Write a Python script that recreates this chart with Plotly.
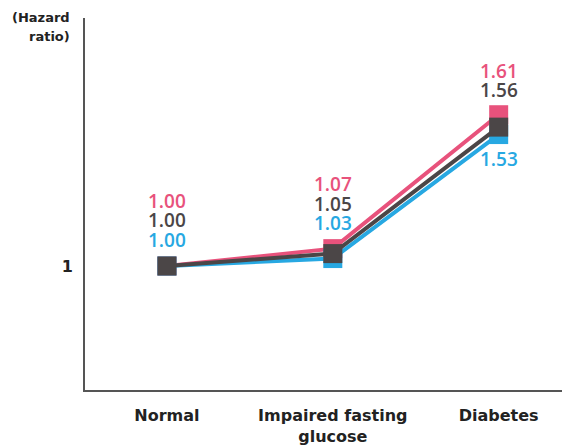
import plotly.graph_objects as go

categories = ["Normal", "Impaired fasting<br>glucose", "Diabetes"]
x_pos = [0, 1, 2]
pink_vals = [1.00, 1.07, 1.61]
gray_vals = [1.00, 1.05, 1.56]
blue_vals = [1.00, 1.03, 1.53]
y_label_lines = ["(Hazard", "ratio)"]

PINK = "#E8527C"
GRAY = "#4B4647"
BLUE = "#27A8E2"

# page body has ~8px default margin; compensate so the plot lands where the reference has it
OFF = 8
W, H = 570 - OFF, 445 - OFF
ML, MR, MT, MB = 85 - OFF, 0, 18 - OFF, 55
PW, PH = W - ML - MR, H - MT - MB

fig = go.Figure()
for vals, col in [(pink_vals, PINK), (blue_vals, BLUE), (gray_vals, GRAY)]:
    fig.add_trace(go.Scatter(
        x=x_pos, y=vals, mode="lines+markers",
        line=dict(color=col, width=4),
        marker=dict(symbol="square", size=19, color=col),
        showlegend=False, hoverinfo="skip"))

numfont = dict(family="Open Sans", size=19, weight=600)
offsets = {
    0: [(pink_vals, PINK, 65), (gray_vals, GRAY, 46), (blue_vals, BLUE, 26)],
    1: [(pink_vals, PINK, 65), (gray_vals, GRAY, 45), (blue_vals, BLUE, 26)],
}
for i in (0, 1):
    top = max(pink_vals[i], gray_vals[i], blue_vals[i])
    for vals, col, dy in offsets[i]:
        fig.add_annotation(x=x_pos[i], y=top, yshift=dy,
                           text=f"{vals[i]:.2f}", showarrow=False,
                           font=dict(color=col, **numfont))
fig.add_annotation(x=2, y=pink_vals[2], yshift=44, text=f"{pink_vals[2]:.2f}",
                   showarrow=False, font=dict(color=PINK, **numfont))
fig.add_annotation(x=2, y=pink_vals[2], yshift=25, text=f"{gray_vals[2]:.2f}",
                   showarrow=False, font=dict(color=GRAY, **numfont))
fig.add_annotation(x=2, y=blue_vals[2], yshift=-24, text=f"{blue_vals[2]:.2f}",
                   showarrow=False, font=dict(color=BLUE, **numfont))

labfont = dict(family="DejaVu Sans", size=13, color="#222", weight="bold")
for txt, ypx in zip(y_label_lines, [17 - OFF, 37 - OFF]):
    fig.add_annotation(xref="paper", yref="paper", x=(72 - 85) / PW, y=(H - MB - ypx) / PH,
                       xanchor="right", yanchor="middle", text=txt, showarrow=False,
                       font=labfont)

tickfont = dict(family="DejaVu Sans", size=16, color="#222", weight="bold")
fig.update_layout(
    width=W, height=H,
    margin=dict(l=ML, r=MR, t=MT, b=MB, autoexpand=False),
    plot_bgcolor="white", paper_bgcolor="white",
    xaxis=dict(range=[-0.494, 2.43], tickvals=x_pos, ticktext=categories,
               showgrid=False, zeroline=False, showline=True, linecolor="#555", linewidth=2,
               tickfont=tickfont, ticks="", ticklabelstandoff=10, automargin=False),
    yaxis=dict(range=[0.5, 2.0], tickvals=[1], ticktext=["1"],
               showgrid=False, zeroline=False, showline=True, linecolor="#555", linewidth=2,
               tickfont=tickfont, ticks="", ticklabelstandoff=7, automargin=False),
)
fig.write_html("out.html")
